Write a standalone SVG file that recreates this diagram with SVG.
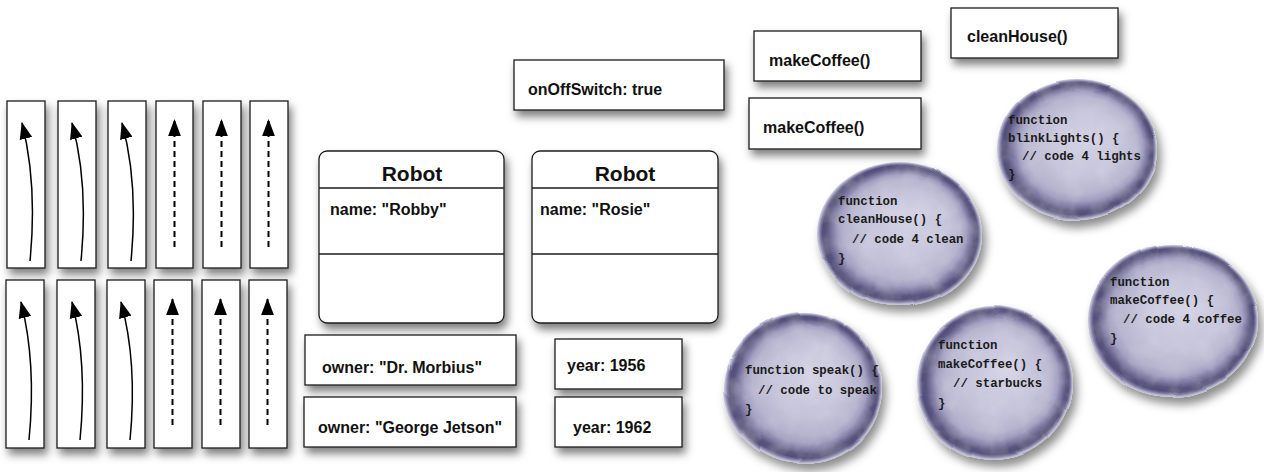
<svg xmlns="http://www.w3.org/2000/svg" width="1264" height="472" viewBox="0 0 1264 472">
  <style>
    .box { fill: #ffffff; stroke: #1c1c1c; stroke-width: 1.3; filter: url(#shadow); }
    .lbl { font-family: "Liberation Sans", Arial, sans-serif; font-weight: bold; font-size: 16px; fill: #111111; }
    .title { font-family: "Liberation Sans", Arial, sans-serif; font-weight: bold; font-size: 21px; fill: #111111; text-anchor: middle; }
    .sep { stroke: #1c1c1c; stroke-width: 1.3; }
    .code { font-family: "Liberation Mono", "Courier New", monospace; font-weight: bold; font-size: 12.4px; fill: #1a1a1a; }
    .solid { fill: none; stroke: #000000; stroke-width: 1.5; marker-end: url(#head); }
    .dash { fill: none; stroke: #000000; stroke-width: 2; stroke-dasharray: 6 4; marker-end: url(#head); }
    .blob { fill: url(#blobfill); filter: url(#blobfx); }
  </style>
  <defs>
    <filter id="shadow" x="-30%" y="-30%" width="170%" height="170%">
      <feDropShadow dx="3" dy="6" stdDeviation="4" flood-color="#000000" flood-opacity="0.5"/>
    </filter>
    <marker id="head" viewBox="0 0 16 12" refX="15" refY="6" markerWidth="17" markerHeight="13" markerUnits="userSpaceOnUse" orient="auto">
      <path d="M0,0 L16,6 L0,12 Z" fill="#000000"/>
    </marker>
    <radialGradient id="blobfill" cx="50%" cy="50%" r="50%" fx="57%" fy="40%">
      <stop offset="0" stop-color="#d4d2e4"/>
      <stop offset="0.5" stop-color="#c5c3da"/>
      <stop offset="0.7" stop-color="#b6b3ce"/>
      <stop offset="0.78" stop-color="#a19ec1"/>
      <stop offset="0.85" stop-color="#78749d"/>
      <stop offset="0.9" stop-color="#58547f"/>
      <stop offset="0.94" stop-color="#524e79"/>
      <stop offset="0.965" stop-color="#7b78a0"/>
      <stop offset="0.985" stop-color="#b3b0cc"/>
      <stop offset="1" stop-color="#c9c7dc"/>
    </radialGradient>
    <filter id="blobfx" x="-20%" y="-20%" width="150%" height="150%">
      <feTurbulence type="fractalNoise" baseFrequency="0.012" numOctaves="1" seed="4" result="n"/>
      <feDisplacementMap in="SourceGraphic" in2="n" scale="8" xChannelSelector="R" yChannelSelector="G" result="d"/>
      <feTurbulence type="fractalNoise" baseFrequency="0.05" numOctaves="3" seed="9" result="t"/>
      <feColorMatrix in="t" type="matrix" values="0 0 0 0 1  0 0 0 0 1  0 0 0 0 1  0 0 0 0.22 -0.08" result="tw"/>
      <feComposite in="tw" in2="d" operator="in" result="twin"/>
      <feColorMatrix in="d" type="matrix" values="0 0 0 0 0  0 0 0 0 0  0 0 0 0 0  0 0 0 0.45 0" result="sa"/>
      <feGaussianBlur in="sa" stdDeviation="5"/>
      <feOffset dx="4" dy="7" result="sh"/>
      <feMerge>
        <feMergeNode in="sh"/>
        <feMergeNode in="d"/>
        <feMergeNode in="twin"/>
      </feMerge>
    </filter>
  </defs>

  <!-- strip nodes, top row -->
  <g id="strip-t1"><rect class="box" x="7" y="101" width="38" height="167"/></g>
  <g id="strip-t2"><rect class="box" x="58" y="101" width="38" height="167"/></g>
  <g id="strip-t3"><rect class="box" x="108" y="101" width="38" height="167"/></g>
  <g id="strip-t4"><rect class="box" x="156" y="101" width="37" height="167"/></g>
  <g id="strip-t5"><rect class="box" x="203" y="101" width="38" height="167"/></g>
  <g id="strip-t6"><rect class="box" x="250" y="101" width="38" height="167"/></g>
  <!-- strip nodes, bottom row -->
  <g id="strip-b1"><rect class="box" x="6" y="280" width="38" height="168"/></g>
  <g id="strip-b2"><rect class="box" x="57" y="280" width="38" height="168"/></g>
  <g id="strip-b3"><rect class="box" x="107" y="280" width="38" height="168"/></g>
  <g id="strip-b4"><rect class="box" x="154" y="280" width="38" height="168"/></g>
  <g id="strip-b5"><rect class="box" x="202" y="280" width="38" height="168"/></g>
  <g id="strip-b6"><rect class="box" x="249" y="280" width="38" height="168"/></g>

  <g id="connectors">
    <path class="solid" d="M30,261 C34,220 34,170 22,123"/>
    <path class="solid" d="M81,261 C85,220 85,170 72,123"/>
    <path class="solid" d="M131,261 C135,220 135,170 122,123"/>
    <path class="dash" d="M174.5,247 V120"/>
    <path class="dash" d="M221.5,247 V120"/>
    <path class="dash" d="M268.5,247 V120"/>
    <path class="solid" d="M29,440 C33,399 33,349 21,302"/>
    <path class="solid" d="M80,440 C84,399 84,349 72,302"/>
    <path class="solid" d="M130,440 C134,399 134,349 121,302"/>
    <path class="dash" d="M172.5,425 V299"/>
    <path class="dash" d="M220.5,425 V299"/>
    <path class="dash" d="M267.5,425 V299"/>
  </g>

  <!-- Robot objects -->
  <g id="robot-robby">
    <rect class="box" x="319" y="151" width="185" height="172" rx="8"/>
    <line class="sep" x1="319" y1="188" x2="504" y2="188"/>
    <line class="sep" x1="319" y1="254" x2="504" y2="254"/>
    <text class="title" x="412" y="181">Robot</text>
    <text class="lbl" x="330" y="215">name: "Robby"</text>
  </g>
  <g id="robot-rosie">
    <rect class="box" x="532" y="151" width="186" height="172" rx="8"/>
    <line class="sep" x1="532" y1="188" x2="718" y2="188"/>
    <line class="sep" x1="532" y1="254" x2="718" y2="254"/>
    <text class="title" x="625" y="181">Robot</text>
    <text class="lbl" x="540" y="215">name: "Rosie"</text>
  </g>

  <!-- property labels -->
  <g id="owner-morbius">
    <rect class="box" x="305" y="335" width="211" height="50"/>
    <text class="lbl" x="322" y="373">owner: "Dr. Morbius"</text>
  </g>
  <g id="owner-jetson">
    <rect class="box" x="304" y="397" width="212" height="50"/>
    <text class="lbl" x="318" y="433">owner: "George Jetson"</text>
  </g>
  <g id="year-1956">
    <rect class="box" x="555" y="339" width="127" height="50"/>
    <text class="lbl" x="567" y="371">year: 1956</text>
  </g>
  <g id="year-1962">
    <rect class="box" x="555" y="397" width="127" height="50"/>
    <text class="lbl" x="573" y="433">year: 1962</text>
  </g>
  <g id="onoffswitch">
    <rect class="box" x="514" y="60" width="210" height="50"/>
    <text class="lbl" x="528" y="95">onOffSwitch: true</text>
  </g>
  <g id="makecoffee-1">
    <rect class="box" x="754" y="31" width="167" height="50"/>
    <text class="lbl" x="769" y="66">makeCoffee()</text>
  </g>
  <g id="makecoffee-2">
    <rect class="box" x="749" y="98" width="172" height="51"/>
    <text class="lbl" x="763" y="133">makeCoffee()</text>
  </g>
  <g id="cleanhouse">
    <rect class="box" x="951" y="8" width="167" height="50"/>
    <text class="lbl" x="967" y="42">cleanHouse()</text>
  </g>

  <!-- function blobs -->
  <g id="blob-blinklights">
    <ellipse class="blob" cx="1077" cy="150" rx="80" ry="71"/>
    <text class="code" x="1008" y="124">function</text>
    <text class="code" x="1008" y="142">blinkLights() {</text>
    <text class="code" x="1022" y="160">// code 4 lights</text>
    <text class="code" x="1008" y="178">}</text>
  </g>
  <g id="blob-cleanhouse">
    <ellipse class="blob" cx="900" cy="234" rx="83" ry="72"/>
    <text class="code" x="838" y="205">function</text>
    <text class="code" x="838" y="223">cleanHouse() {</text>
    <text class="code" x="852" y="243">// code 4 clean</text>
    <text class="code" x="838" y="262">}</text>
  </g>
  <g id="blob-coffee">
    <ellipse class="blob" cx="1173" cy="321" rx="85" ry="76"/>
    <text class="code" x="1110" y="286">function</text>
    <text class="code" x="1110" y="304">makeCoffee() {</text>
    <text class="code" x="1123" y="323">// code 4 coffee</text>
    <text class="code" x="1110" y="342">}</text>
  </g>
  <g id="blob-speak">
    <ellipse class="blob" cx="803" cy="388" rx="79" ry="76"/>
    <text class="code" x="745" y="374">function speak() {</text>
    <text class="code" x="758" y="394">// code to speak</text>
    <text class="code" x="745" y="413">}</text>
  </g>
  <g id="blob-starbucks">
    <ellipse class="blob" cx="994" cy="383" rx="78" ry="77"/>
    <text class="code" x="938" y="349">function</text>
    <text class="code" x="938" y="368">makeCoffee() {</text>
    <text class="code" x="953" y="387">// starbucks</text>
    <text class="code" x="938" y="407">}</text>
  </g>
</svg>
